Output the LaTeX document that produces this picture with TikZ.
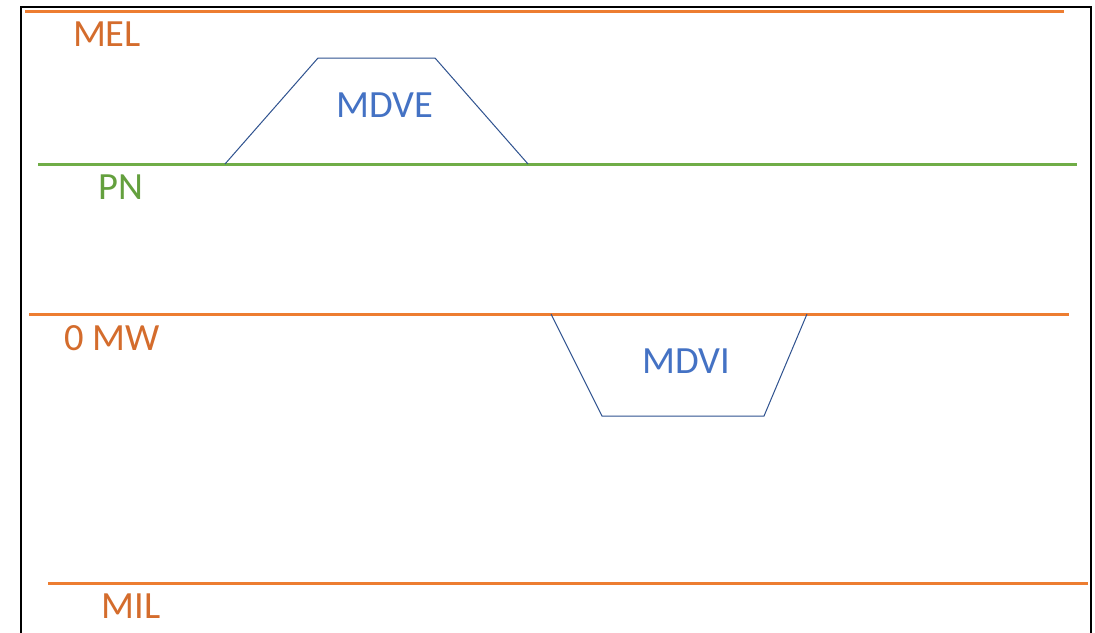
\documentclass[tikz,border=0pt]{standalone}
\usepackage{fontspec}
\setmainfont{Carlito}
\definecolor{lineorange}{RGB}{237,125,49}
\definecolor{textorange}{RGB}{212,108,44}
\definecolor{linegreen}{RGB}{112,173,71}
\definecolor{textgreen}{RGB}{100,160,62}
\definecolor{shapeblue}{RGB}{47,82,143}
\definecolor{textblue}{RGB}{68,114,196}
\tikzset{
    level/.style={line width=3pt},
    lbl/.style={fill=white, anchor=north, inner xsep=1.5pt, inner ysep=9.5pt,
        font=\fontsize{38.5}{42}\selectfont},
    zone/.style={shapeblue, line width=1pt, line join=miter},
    zonetxt/.style={text=textblue, font=\fontsize{38.5}{42}\selectfont}
}
\begin{document}
\begin{tikzpicture}[x=1pt, y=-1pt]
        \useasboundingbox (0,0) rectangle (1095,632);
        \fill [white] (0,0) rectangle (1095,632);
        \draw [line width=2pt] (21,640) -- (21,7) -- (1091,7) -- (1091,640);

        % levels
        \draw [level, lineorange] (25,11) -- (1064,11);
        \draw [level, linegreen] (38,164) -- (1077,164);
        \draw [level, lineorange] (29,314) -- (1069,314);
        \draw [level, lineorange] (48,583) -- (1088,583);

        \node [lbl, text=textorange] (mel) at (107,12.5) {MEL};
        \node [lbl, text=textgreen] (pn) at (121,165.5) {PN};
        \node [lbl, text=textorange] (mw) at (112,315.5) {0 MW};
        \node [lbl, text=textorange] (mil) at (131,584.5) {MIL};

        % zones
        \draw [zone] (225,164) -- (318,58) -- (435,58) -- (528,164);
        \node [zonetxt] (mdve) at (384.5,105) {MDVE};
        \draw [zone] (551,314) -- (602,416) -- (764,416) -- (807,314);
        \node [zonetxt] (mdvi) at (686.5,361) {MDVI};
    \end{tikzpicture}
\end{document}
